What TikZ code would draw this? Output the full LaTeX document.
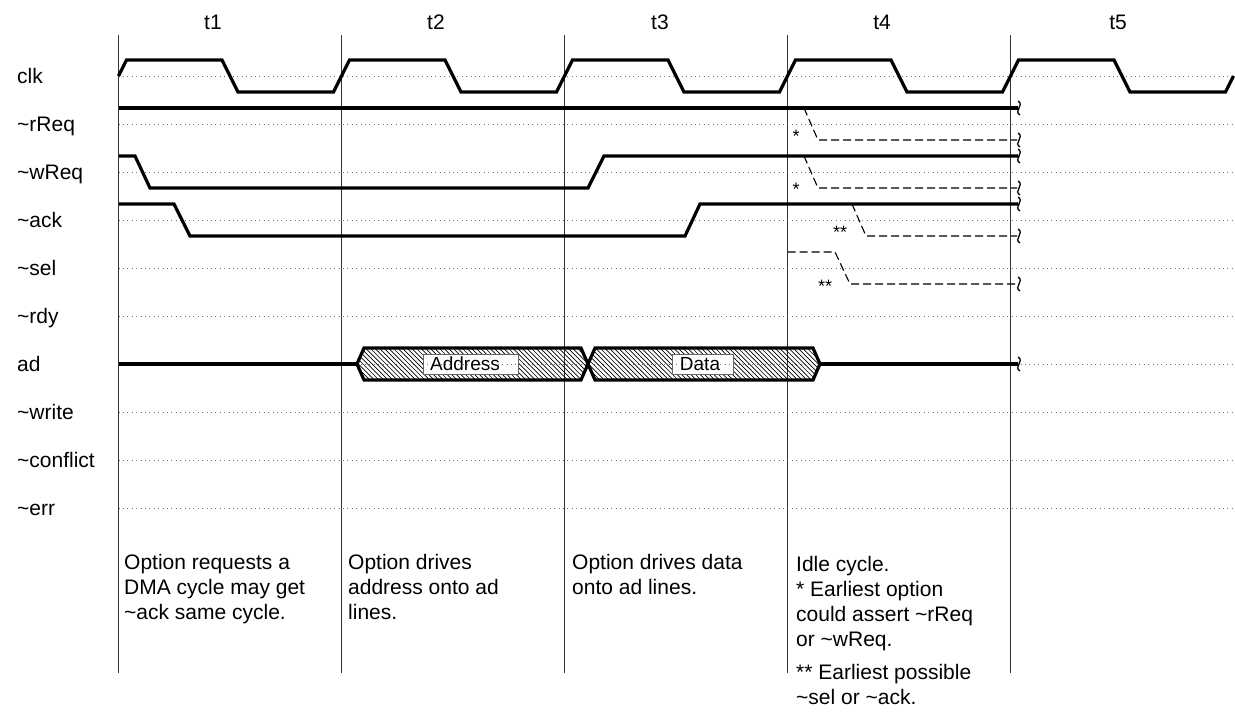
\documentclass[tikz,border=0pt]{standalone}
\usepackage{fontspec}
\setmainfont{Liberation Sans}
\begin{document}
\begin{tikzpicture}[x=1pt,y=-1pt,
  txt/.style={inner sep=0pt, anchor=base west, font=\fontsize{21}{25}\selectfont},
  ttl/.style={inner sep=0pt, anchor=base, font=\fontsize{21}{25}\selectfont},
  star/.style={inner sep=0pt, anchor=base, font=\fontsize{18}{18}\selectfont},
  grid/.style={line width=0.9pt, black!80},
  mid/.style={line width=0.8pt, black!55, dash pattern=on 0.8pt off 3.6pt},
  sig/.style={line width=3.2pt, line join=miter, black},
  alt/.style={line width=1.1pt, black, dash pattern=on 8pt off 4pt},
  bus/.style={line width=3.2pt, line join=miter, black},
  hatch/.style={line width=0.7pt, black},
  tag/.style={draw=black!60, line width=0.7pt, fill=white},
  tagtxt/.style={inner sep=0pt, font=\fontsize{19}{19}\selectfont},
  brk/.pic={\draw[line width=1.3pt, black] (-1,-7) .. controls (6,-3) and (-6,3) .. (1,7);}
]
\useasboundingbox (0,0) rectangle (1235,713);

% cycle boundaries
\foreach \b in {118.5,341.5,564.5,787.5,1010.5}
  \draw[grid] (\b,35) -- (\b,673);

% cycle titles
\node[ttl] (t1) at (213,29) {t1};
\node[ttl] (t2) at (436,29) {t2};
\node[ttl] (t3) at (660,29) {t3};
\node[ttl] (t4) at (882,29) {t4};
\node[ttl] (t5) at (1118,29) {t5};

% signal names and mid-level reference lines
\foreach \n/\lab [count=\i from 0] in {clk/clk,rreq/\textasciitilde rReq,wreq/\textasciitilde wReq,ack/\textasciitilde ack,sel/\textasciitilde sel,rdy/\textasciitilde rdy,ad/ad,write/\textasciitilde write,conflict/\textasciitilde conflict,err/\textasciitilde err}{
  \pgfmathsetmacro\my{76+48*\i}
  \node[txt] (lab-\n) at (17,\my+7) {\lab};
  \draw[mid] (118.5,\my) -- (1235,\my);
}

% clock
\draw[sig] (118.5,76) -- (126.5,60)
  -- (222,60) -- (238,92) -- (333.5,92) -- (349.5,60)
  -- (445,60) -- (461,92) -- (556.5,92) -- (572.5,60)
  -- (668,60) -- (684,92) -- (779.5,92) -- (795.5,60)
  -- (891,60) -- (907,92) -- (1002.5,92) -- (1018.5,60)
  -- (1114,60) -- (1130,92) -- (1225.5,92) -- (1233.5,76);

% ~rReq
\draw[sig] (118.5,108) -- (560,108) -- (1018,108);
\draw[alt] (804,108) -- (818,140) -- (1017,140);
% ~wReq
\draw[sig] (118.5,156) -- (135,156) -- (150,188) -- (588,188) -- (604,156) -- (1018,156);
\draw[alt] (804,156) -- (818,188) -- (1017,188);
% ~ack
\draw[sig] (118.5,204) -- (174,204) -- (190,236) -- (685,236) -- (700,204) -- (1018,204);
\draw[alt] (852,204) -- (866,236) -- (1017,236);
% ~sel
\draw[alt] (787.5,252) -- (835,252) -- (850,284) -- (1017,284);

% break marks at the right end of the traces
\foreach \yy in {108,140,156,188,204,236,284,364}
  \pic at (1019,\yy) {brk};

% earliest-assertion markers
\node[star] (s1) at (796,142) {*};
\node[star] (s2) at (796,195) {*};
\node[star] (s3) at (840,238) {**};
\node[star] (s4) at (825,292) {**};

% ad bus
\draw[sig] (118.5,364) -- (240,364) -- (357,364);
\draw[sig] (820,364) -- (920,364) -- (1018,364);
\begin{scope}
  \clip (357,364) -- (364,348) -- (581,348) -- (588,364) -- (581,380) -- (364,380) -- cycle;
  \foreach \k in {0,...,55} \draw[hatch] (320+\k*4.6,344) -- ++(40,40);
\end{scope}
\begin{scope}
  \clip (588,364) -- (595,348) -- (813,348) -- (820,364) -- (813,380) -- (595,380) -- cycle;
  \foreach \k in {0,...,56} \draw[hatch] (550+\k*4.6,344) -- ++(40,40);
\end{scope}
\draw[bus] (357,364) -- (364,348) -- (581,348) -- (588,364) -- (581,380) -- (364,380) -- cycle;
\draw[bus] (588,364) -- (595,348) -- (813,348) -- (820,364) -- (813,380) -- (595,380) -- cycle;
\draw[tag] (423,354) rectangle (518,374);
\draw[tag] (672,354) rectangle (733,374);
\draw[mid] (423,364) -- (518,364);
\draw[mid] (672,364) -- (733,364);
\node[tagtxt] (addr) at (465,364) {Address};
\node[tagtxt] (data) at (700,364) {Data};

% cycle notes
\node[txt] (n1a) at (124,569) {Option requests a};
\node[txt] (n1b) at (124,594) {DMA cycle may get};
\node[txt] (n1c) at (124,619) {\textasciitilde ack same cycle.};

\node[txt] (n2a) at (348,569) {Option drives};
\node[txt] (n2b) at (348,594) {address onto ad};
\node[txt] (n2c) at (348,619) {lines.};

\node[txt] (n3a) at (572,569) {Option drives data};
\node[txt] (n3b) at (572,594) {onto ad lines.};

\node[txt] (n4a) at (796,571) {Idle cycle.};
\node[txt] (n4b) at (796,596) {* Earliest option};
\node[txt] (n4c) at (796,621) {could assert \textasciitilde rReq};
\node[txt] (n4d) at (796,646) {or \textasciitilde wReq.};
\node[txt] (n4e) at (796,679) {** Earliest possible};
\node[txt] (n4f) at (796,704) {\textasciitilde sel or \textasciitilde ack.};
\end{tikzpicture}
\end{document}
